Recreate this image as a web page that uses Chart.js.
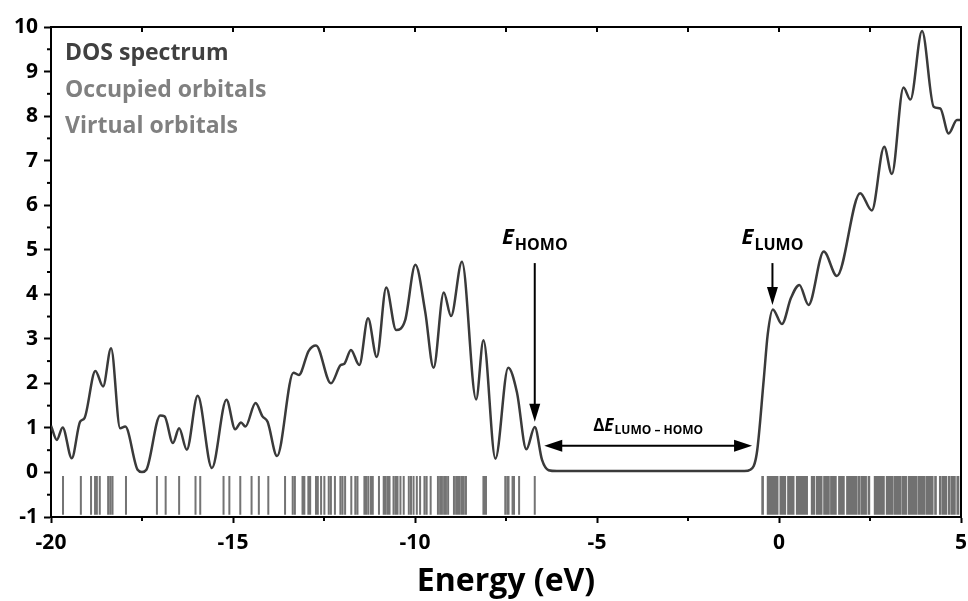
<!DOCTYPE html>
<html>
<head>
<meta charset="utf-8">
<script src="https://cdn.jsdelivr.net/npm/chart.js@4.4.1/dist/chart.umd.min.js"></script>
<style>
  body { margin: 0; background: #fff; }
</style>
</head>
<body>
<canvas id="dos" width="968" height="601"></canvas>
<script>
// DOS curve (energy in eV, density)
const energy = [
  -20.00, -19.84, -19.68, -19.43, -19.20, -19.08, -18.78, -18.57, -18.35, -18.10,
  -17.96, -17.62, -17.50, -17.38, -17.00, -16.88, -16.65, -16.48, -16.27, -15.97,
  -15.58, -15.18, -14.94, -14.78, -14.66, -14.38, -14.19, -14.05, -13.79, -13.34,
  -13.19, -12.92, -12.72, -12.31, -12.04, -11.94, -11.76, -11.53, -11.29, -11.05,
  -10.79, -10.52, -10.27, -9.99, -9.72, -9.49, -9.21, -9.01, -8.71, -8.32,
  -8.12, -7.79, -7.44, -7.20, -6.94, -6.71, -6.51, -6.33, -6.10, -0.95,
  -0.79, -0.61, -0.42, -0.31, -0.17, 0.08, 0.33, 0.56, 0.81, 1.23,
  1.59, 2.23, 2.55, 2.89, 3.10, 3.42, 3.61, 3.93, 4.25, 4.43,
  4.66, 4.89, 5.00
];
const dos = [
  1.05, 0.73, 1.01, 0.32, 1.14, 1.22, 2.28, 1.93, 2.79, 0.99,
  1.03, 0.06, 0.01, 0.06, 1.28, 1.26, 0.66, 0.99, 0.51, 1.72,
  0.10, 1.63, 0.97, 1.12, 1.03, 1.56, 1.26, 1.14, 0.37, 2.24,
  2.19, 2.73, 2.85, 2.00, 2.41, 2.44, 2.75, 2.41, 3.46, 2.59,
  4.15, 3.20, 3.42, 4.66, 3.61, 2.35, 4.04, 3.51, 4.73, 1.64,
  2.97, 0.31, 2.35, 1.80, 0.52, 1.02, 0.28, 0.05, 0.03, 0.03,
  0.06, 0.43, 2.08, 3.10, 3.66, 3.33, 3.92, 4.21, 3.76, 4.96,
  4.41, 6.27, 5.88, 7.31, 6.70, 8.64, 8.37, 9.91, 8.21, 8.17,
  7.61, 7.91, 7.91
];

// orbital energies (eV)
const occupied = [
  -19.67, -19.18, -18.90, -18.79, -18.74, -18.66, -18.43, -18.37, -18.31, -17.94,
  -17.09, -16.85, -16.48, -16.03, -15.90, -15.26, -15.10, -14.80, -14.49, -14.29,
  -14.03, -13.57, -13.36, -13.30, -13.09, -13.04, -12.93, -12.88, -12.72, -12.67,
  -12.58, -12.49, -12.37, -12.31, -12.20, -12.05, -11.99, -11.92, -11.75, -11.64,
  -11.58, -11.39, -11.34, -11.28, -11.21, -11.16, -10.99, -10.86, -10.81, -10.75,
  -10.70, -10.59, -10.53, -10.48, -10.40, -10.31, -10.17, -10.11, -10.04, -9.95,
  -9.86, -9.74, -9.68, -9.57, -9.37, -9.31, -9.26, -9.20, -9.15, -9.09,
  -8.93, -8.87, -8.82, -8.77, -8.71, -8.66, -8.60, -8.12, -8.09, -8.05,
  -7.52, -7.46, -7.43, -7.32, -7.28, -7.14, -6.71
];
const virtualOrb = [
  -0.45, -0.30, -0.25, -0.18, -0.12, -0.05, 0.05, 0.10, 0.16, 0.26,
  0.32, 0.39, 0.50, 0.56, 0.63, 0.69, 0.76, 0.91, 0.96, 1.05,
  1.11, 1.16, 1.25, 1.31, 1.36, 1.44, 1.49, 1.55, 1.66, 1.71,
  1.77, 1.88, 1.93, 1.99, 2.06, 2.11, 2.19, 2.27, 2.33, 2.38,
  2.47, 2.64, 2.69, 2.75, 2.80, 2.87, 2.97, 3.04, 3.11, 3.19,
  3.26, 3.33, 3.41, 3.48, 3.57, 3.63, 3.70, 3.77, 3.85, 3.92,
  3.99, 4.07, 4.14, 4.21, 4.30, 4.43, 4.51, 4.58, 4.67, 4.75,
  4.82, 4.91, 5.00
];
const stickRange = [-0.95, -0.08];

const legendLabels = ['DOS spectrum', 'Occupied orbitals', 'Virtual orbitals'];

// arrows in data units
const homoArrow = { x: -6.71, y1: 4.70, y2: 1.14 };
const lumoArrow = { x: -0.18, y1: 4.70, y2: 3.76 };
const gapArrow = { x1: -6.45, x2: -0.74, y: 0.60 };

const FONT = "'Open Sans', 'DejaVu Sans', sans-serif";
Chart.defaults.font.family = FONT;

function sticks(list) {
  const pts = [];
  list.forEach(e => {
    pts.push({ x: e, y: stickRange[0] }, { x: e, y: stickRange[1] }, { x: e, y: null });
  });
  return pts;
}

const curve = energy.map((e, i) => ({ x: e, y: dos[i] }));

function arrowHead(ctx, x, y, dir, len, half) {
  // tip at x,y
  ctx.beginPath();
  ctx.moveTo(x, y);
  if (dir === 'down') { ctx.lineTo(x - half, y - len); ctx.lineTo(x + half, y - len); }
  if (dir === 'left') { ctx.lineTo(x + len, y - half); ctx.lineTo(x + len, y + half); }
  if (dir === 'right') { ctx.lineTo(x - len, y - half); ctx.lineTo(x - len, y + half); }
  ctx.closePath();
  ctx.fill();
}

// E with subscript, centred on cx
function subLabel(ctx, cx, base, pre, sub, mainSize, subSize, subDrop) {
  ctx.font = "bold " + mainSize + "px " + FONT;
  const wPre = pre.delta ? ctx.measureText(pre.delta).width : 0;
  ctx.font = "italic bold " + mainSize + "px " + FONT;
  const wE = ctx.measureText('E').width;
  ctx.font = "bold " + subSize + "px " + FONT;
  const wSub = ctx.measureText(sub).width;
  let x = cx - (wPre + wE + 1 + wSub) / 2;
  ctx.textAlign = 'left';
  ctx.textBaseline = 'alphabetic';
  if (pre.delta) {
    ctx.font = "bold " + mainSize + "px " + FONT;
    ctx.fillText(pre.delta, x, base);
    x += wPre;
  }
  ctx.font = "italic bold " + mainSize + "px " + FONT;
  ctx.fillText('E', x, base);
  x += wE + 1;
  ctx.font = "bold " + subSize + "px " + FONT;
  ctx.fillText(sub, x, base + subDrop);
}

const decorations = {
  id: 'decorations',
  afterDraw(chart) {
    const { ctx, chartArea: a, scales: { x, y } } = chart;
    ctx.save();
    ctx.strokeStyle = '#000';
    ctx.fillStyle = '#000';
    ctx.lineWidth = 2;

    // top and right frame
    ctx.beginPath();
    ctx.moveTo(a.left - 1, a.top);
    ctx.lineTo(a.right, a.top);
    ctx.lineTo(a.right, a.bottom);
    ctx.stroke();

    // minor ticks bottom, all ticks on top (inward)
    for (let v = -20; v <= 5.001; v += 2.5) {
      const px = x.getPixelForValue(v);
      const major = Math.abs(v % 5) < 0.001;
      ctx.beginPath();
      ctx.moveTo(px, a.top);
      ctx.lineTo(px, a.top + 5);
      if (!major) {
        ctx.moveTo(px, a.bottom);
        ctx.lineTo(px, a.bottom + 4);
      }
      ctx.stroke();
    }
    // minor ticks left
    for (let v = -0.5; v < 10; v += 1) {
      const py = y.getPixelForValue(v);
      ctx.beginPath();
      ctx.moveTo(a.left, py);
      ctx.lineTo(a.left - 4, py);
      ctx.stroke();
    }

    // arrows
    const hx = x.getPixelForValue(homoArrow.x);
    const hy1 = y.getPixelForValue(homoArrow.y1);
    const hy2 = y.getPixelForValue(homoArrow.y2);
    ctx.beginPath();
    ctx.moveTo(hx, hy1);
    ctx.lineTo(hx, hy2 - 10);
    ctx.stroke();
    arrowHead(ctx, hx, hy2, 'down', 18, 5.5);

    const lx = x.getPixelForValue(lumoArrow.x);
    const ly1 = y.getPixelForValue(lumoArrow.y1);
    const ly2 = y.getPixelForValue(lumoArrow.y2);
    ctx.beginPath();
    ctx.moveTo(lx, ly1);
    ctx.lineTo(lx, ly2 - 10);
    ctx.stroke();
    arrowHead(ctx, lx, ly2, 'down', 18, 5.5);

    const gx1 = x.getPixelForValue(gapArrow.x1);
    const gx2 = x.getPixelForValue(gapArrow.x2);
    const gy = y.getPixelForValue(gapArrow.y);
    ctx.beginPath();
    ctx.moveTo(gx1 + 10, gy);
    ctx.lineTo(gx2 - 10, gy);
    ctx.stroke();
    arrowHead(ctx, gx1, gy, 'left', 18, 6);
    arrowHead(ctx, gx2, gy, 'right', 18, 6);

    // labels
    subLabel(ctx, hx, hy1 - 19, {}, 'HOMO', 22, 16, 6);
    subLabel(ctx, lx, ly1 - 19, {}, 'LUMO', 22, 16, 6);
    subLabel(ctx, (gx1 + gx2) / 2, gy - 15, { delta: '\u0394' }, 'LUMO \u2013 HOMO', 17, 12, 3);

    // legend text
    ctx.font = "bold 23px " + FONT;
    ctx.textAlign = 'left';
    ctx.textBaseline = 'alphabetic';
    const colors = ['#404040', '#808080', '#808080'];
    legendLabels.forEach((t, i) => {
      ctx.fillStyle = colors[i];
      ctx.fillText(t, a.left + 14, 60 + i * 36.5);
    });
    ctx.restore();
  }
};

new Chart(document.getElementById('dos'), {
  type: 'scatter',
  data: {
    datasets: [
      {
        label: 'Occupied orbitals',
        data: sticks(occupied),
        showLine: true,
        spanGaps: false,
        borderColor: '#747474',
        borderWidth: 2,
        pointRadius: 0
      },
      {
        label: 'Virtual orbitals',
        data: sticks(virtualOrb),
        showLine: true,
        spanGaps: false,
        borderColor: '#717171',
        borderWidth: 2.6,
        pointRadius: 0
      },
      {
        label: 'DOS spectrum',
        data: curve,
        showLine: true,
        borderColor: '#3a3a3a',
        borderWidth: 2.5,
        pointRadius: 0,
        cubicInterpolationMode: 'monotone'
      }
    ]
  },
  options: {
    responsive: false,
    animation: false,
    layout: { padding: { top: 27, right: 7, left: 0, bottom: 0 } },
    plugins: {
      legend: { display: false },
      tooltip: { enabled: false }
    },
    scales: {
      x: {
        type: 'linear',
        min: -20,
        max: 5,
        afterFit: s => { s.height = 84; s.paddingLeft = 0; s.paddingRight = 0; },
        ticks: {
          stepSize: 5,
          color: '#000',
          padding: 7,
          font: { size: 21, weight: 'bold' }
        },
        grid: {
          drawOnChartArea: false,
          drawTicks: true,
          tickLength: 6,
          tickWidth: 2,
          tickColor: '#000'
        },
        border: { display: true, color: '#000', width: 2 },
        title: {
          display: true,
          text: 'Energy (eV)',
          color: '#000',
          font: { size: 32, weight: 'bold' },
          padding: { top: 0, bottom: 0 }
        }
      },
      y: {
        min: -1,
        max: 10,
        afterFit: s => { s.width = 51; s.paddingTop = 0; s.paddingBottom = 0; },
        ticks: {
          stepSize: 1,
          color: '#000',
          padding: 6,
          font: { size: 21, weight: 'bold' }
        },
        grid: {
          drawOnChartArea: false,
          drawTicks: true,
          tickLength: 7,
          tickWidth: 2,
          tickColor: '#000'
        },
        border: { display: true, color: '#000', width: 2 }
      }
    }
  },
  plugins: [decorations]
});
</script>
</body>
</html>
